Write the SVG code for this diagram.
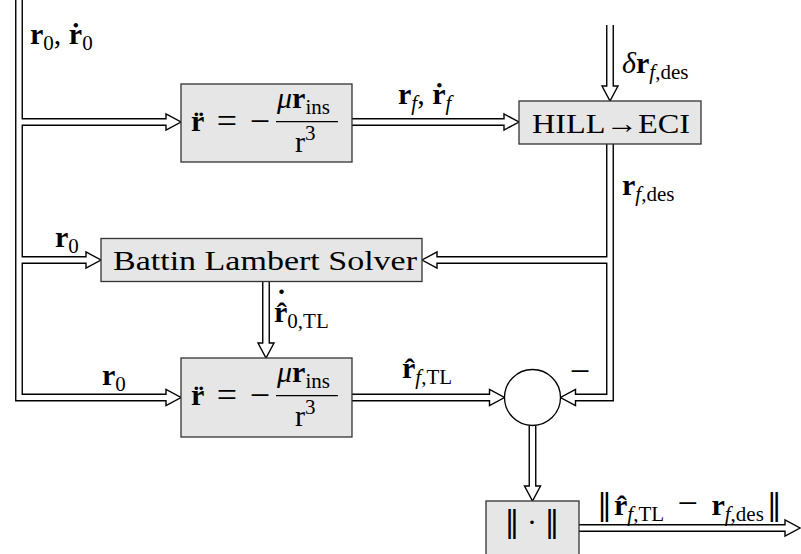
<svg xmlns="http://www.w3.org/2000/svg" width="801" height="554" viewBox="0 0 801 554">
<style>
.c{fill:none;stroke:#000;stroke-width:1.4;stroke-linejoin:miter}
.box{fill:#e6e6e6;stroke:#333;stroke-width:1.3}
text{font-family:"Liberation Serif","DejaVu Serif",serif;font-size:30px;fill:#000}
.b{font-weight:bold}
.i{font-style:italic}
.s{font-size:21px}
.n{font-family:"DejaVu Serif",serif;font-weight:normal}
.lbl{font-size:28px}
.op{font-size:36px}
</style>
<rect width="801" height="554" fill="#fff"/>
<g id="connectors">
<path class="c" d="M22.25,0 V118.75 H166 V114 L181,122 L166,130 V125.25 H22.25 V256.75 H86 V252 L101,260 L86,268 V263.25 H22.25 V394.25 H166 V389.5 L181,397.5 L166,405.5 V400.75 H15.75 V0"/>
<path class="c" d="M352,118.75 H504 V114 L519,122 L504,130 V125.25 H352"/>
<path class="c" d="M606.75,25 V86 H602 L610,101 L618,86 H613.25 V25"/>
<path class="c" d="M606.75,144 V256.75 H437 V252 L422,260 L437,268 V263.25 H606.75 V394.25 H575.5 V389.5 L560.5,397.5 L575.5,405.5 V400.75 H613.25 V144"/>
<path class="c" d="M262.75,281.5 V343 H258 L266,358 L274,343 H269.25 V281.5"/>
<path class="c" d="M352,394.25 H489.5 V389.5 L504.5,397.5 L489.5,405.5 V400.75 H352"/>
<path class="c" d="M529.25,425.5 V486 H524.5 L532.5,501 L540.5,486 H535.75 V425.5"/>
<path class="c" d="M579,524.75 H785 V520 L800,528 L785,536 V531.25 H579"/>
</g>
<g id="labels">
<text x="30" y="44"><tspan class="b">r</tspan><tspan class="s" dy="6">0</tspan><tspan dy="-6">, </tspan><tspan class="b">r&#x307;</tspan><tspan class="s" dy="6">0</tspan></text>
<text x="398" y="104"><tspan class="b">r</tspan><tspan class="s i" dy="6">f</tspan><tspan dy="-6">, </tspan><tspan class="b">r&#x307;</tspan><tspan class="s i" dy="6">f</tspan></text>
<text x="622" y="73"><tspan class="i">δ</tspan><tspan class="b">r</tspan><tspan class="s i" dy="6">f</tspan><tspan class="s">,des</tspan></text>
<text x="622" y="195"><tspan class="b">r</tspan><tspan class="s i" dy="6">f</tspan><tspan class="s">,des</tspan></text>
<text x="55" y="247"><tspan class="b">r</tspan><tspan class="s" dy="6">0</tspan></text>
<text x="274" y="322"><tspan class="b">r&#x302;</tspan><tspan class="s" dy="6">0,TL</tspan><tspan class="b" x="276.5" y="310">˙</tspan></text>
<text x="102" y="385"><tspan class="b">r</tspan><tspan class="s" dy="6">0</tspan></text>
<text x="402" y="378"><tspan class="b">r&#x302;</tspan><tspan class="s i" dy="6">f</tspan><tspan class="s">,TL</tspan></text>
<text x="580" y="383" text-anchor="middle" class="op">−</text>
<text x="597" y="515"><tspan class="n">‖</tspan><tspan class="b" dx="2">r&#x302;</tspan><tspan class="s i" dy="6">f</tspan><tspan class="s">,TL</tspan><tspan dy="-6" dx="6"> </tspan><tspan class="op">−</tspan><tspan dx="6"> </tspan><tspan class="b">r</tspan><tspan class="s i" dy="6">f</tspan><tspan class="s">,des</tspan><tspan class="n" dy="-6" dx="3">‖</tspan></text>
</g>
<g id="dyn1">
<rect class="box" x="181" y="84" width="171" height="78"/>
<text x="191" y="131" class="b">r&#x308;</text>
<text x="227" y="133" text-anchor="middle" class="op">=</text>
<text x="260" y="133" text-anchor="middle" class="op">−</text>
<text x="277" y="108"><tspan class="i">μ</tspan><tspan class="b">r</tspan><tspan class="s" dy="6">ins</tspan></text>
<line x1="276" y1="121.7" x2="338" y2="121.7" stroke="#000" stroke-width="1.2"/>
<text x="295" y="152">r<tspan class="s" dy="-12">3</tspan></text>
</g>
<g id="hill">
<rect class="box" x="519" y="101" width="182" height="43"/>
<text x="532" y="133" class="lbl" textLength="158" lengthAdjust="spacingAndGlyphs">HILL→ECI</text>
</g>
<g id="battin">
<rect class="box" x="101" y="238.5" width="321" height="43"/>
<text x="113" y="270" class="lbl" textLength="304" lengthAdjust="spacingAndGlyphs">Battin Lambert Solver</text>
</g>
<g id="dyn2">
<rect class="box" x="181" y="358" width="171" height="79"/>
<text x="191" y="405" class="b">r&#x308;</text>
<text x="227" y="407" text-anchor="middle" class="op">=</text>
<text x="260" y="407" text-anchor="middle" class="op">−</text>
<text x="277" y="382"><tspan class="i">μ</tspan><tspan class="b">r</tspan><tspan class="s" dy="6">ins</tspan></text>
<line x1="276" y1="395.7" x2="338" y2="395.7" stroke="#000" stroke-width="1.2"/>
<text x="295" y="426">r<tspan class="s" dy="-12">3</tspan></text>
</g>
<g id="sum">
<circle cx="532.5" cy="397.5" r="28" fill="#fff" stroke="#000" stroke-width="1.3"/>
</g>
<g id="norm">
<rect class="box" x="486" y="501" width="93" height="60"/>
<text x="532" y="532" text-anchor="middle"><tspan class="n">‖</tspan> · <tspan class="n">‖</tspan></text>
</g>
</svg>
